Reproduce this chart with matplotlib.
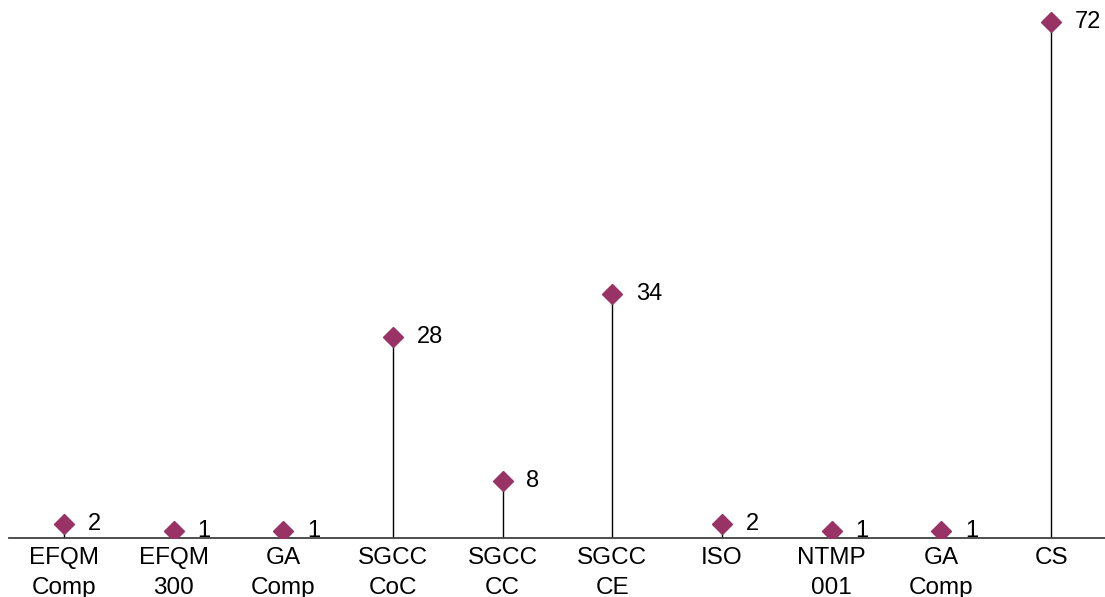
import matplotlib.pyplot as plt
import numpy as np

plt.rcParams['font.family'] = ['Liberation Sans', 'DejaVu Sans']

categories = ['EFQM\nComp', 'EFQM\n300', 'GA\nComp', 'SGCC\nCoC', 'SGCC\nCC',
              'SGCC\nCE', 'ISO', 'NTMP\n001', 'GA\nComp', 'CS']
values = [2, 1, 1, 28, 8, 34, 2, 1, 1, 72]

fig = plt.figure(figsize=(11.05, 5.97), dpi=100)
ax = fig.add_axes([9 / 1105, 59 / 597, 1097 / 1105, 536 / 597])

x = np.arange(len(values))
ax.vlines(x, 0, values, color='black', linewidth=1)
ax.plot(x, values, linestyle='none', marker='D', markersize=10.5,
        color='#993366', zorder=3)
for xi, v in zip(x, values):
    ax.annotate(str(v), (xi, v), xytext=(17, 0), textcoords='offset points',
                va='center', ha='left', fontsize=17, color='black')

ax.set_xlim(-0.5, len(values) - 0.5)
ax.set_ylim(0, 74.8)
ax.set_xticks(x)
ax.set_xticklabels(categories, fontsize=17.5, linespacing=1.45)
ax.tick_params(axis='x', length=0, pad=6.5)
ax.set_yticks([])
for s in ['top', 'right', 'left']:
    ax.spines[s].set_visible(False)
ax.spines['bottom'].set_color('#404040')
ax.spines['bottom'].set_linewidth(1.3)

fig.savefig('out.png', dpi=100)
